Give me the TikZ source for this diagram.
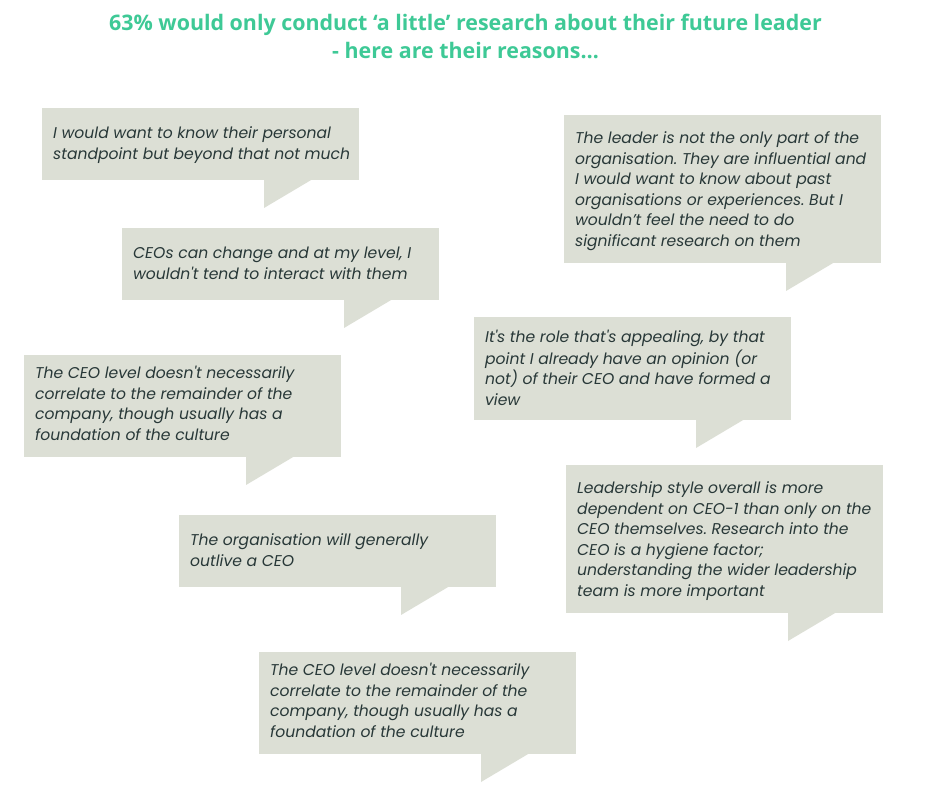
\documentclass[tikz,border=0pt]{standalone}
\usepackage{fontspec}
\setmainfont{Open Sans}
\newfontfamily\bodyfont{Poppins}
\usetikzlibrary{calc}
\frenchspacing
\definecolor{boxc}{RGB}{220,223,213}
\definecolor{txtc}{RGB}{40,56,56}
\definecolor{titc}{RGB}{62,201,150}
\tikzset{
  boxnode/.style={fill=boxc, inner sep=0pt, minimum width=317pt, outer sep=0pt},
  bodytext/.style={inner sep=0pt, align=left, text=txtc, font=\bodyfont\itshape\fontsize{15.6}{20.5}\selectfont},
  titletext/.style={align=center, text=titc, inner sep=0pt, font=\bfseries\fontsize{21.4}{28}\selectfont}
}
\newcommand\sq{\char"27\relax}
\newcommand\mybubble[6]{%
  \node[boxnode, minimum height=#4pt, anchor=north west] (#1) at (#2,#3) {};
  \fill[boxc] ($(#1.south west)+(222pt,0.5pt)$) -- ($(#1.south west)+(270pt,0.5pt)$) -- ($(#1.south west)+(222pt,-28pt)$) -- cycle;
  \node[bodytext, anchor=north west] (#1t) at ($(#1.north west)+(11pt,-#5pt+8.85pt)$) {\strut #6};
}
\begin{document}
\begin{tikzpicture}[x=1pt,y=-1pt]
\useasboundingbox (0,0) rectangle (930,799);
\fill[white] (0,0) rectangle (930,799);
\node[titletext] (title) at (465.5,36) {63\% would only conduct ‘a little’ research about their future leader\\- here are their reasons…};
\mybubble{b1}{42}{108}{72}{25}{I would want to know their personal\\standpoint but beyond that not much}
\mybubble{b2}{122}{228}{72}{25}{CEOs can change and at my level, I\\wouldn\sq t tend to interact with them}
\mybubble{b3}{564}{115}{148}{23}{The leader is not the only part of the\\organisation. They are influential and\\I would want to know about past\\organisations or experiences. But I\\wouldn’t feel the need to do\\significant research on them}
\mybubble{b4}{474}{317}{103}{20}{It\sq s the role that\sq s appealing, by that\\point I already have an opinion (or\\not) of their CEO and have formed a\\view}
\mybubble{b5}{24}{355}{102}{18}{The CEO level doesn\sq t necessarily\\correlate to the remainder of the\\company, though usually has a\\foundation of the culture}
\mybubble{b6}{566}{465}{148}{23}{Leadership style overall is more\\dependent on CEO-1 than only on the\\CEO themselves. Research into the\\CEO is a hygiene factor;\\understanding the wider leadership\\team is more important}
\mybubble{b7}{179}{515}{72}{25}{The organisation will generally\\outlive a CEO}
\mybubble{b8}{259}{652}{102}{18}{The CEO level doesn\sq t necessarily\\correlate to the remainder of the\\company, though usually has a\\foundation of the culture}
\end{tikzpicture}
\end{document}
